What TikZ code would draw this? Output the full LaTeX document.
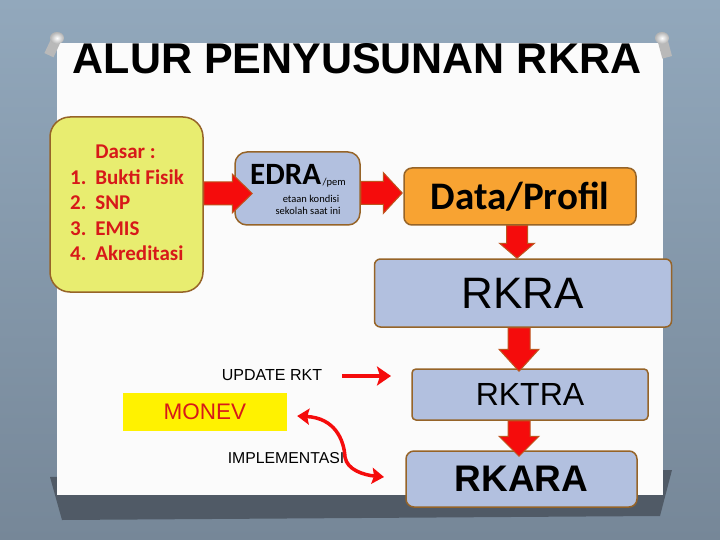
\documentclass[tikz,border=0pt]{standalone}
\usepackage{fontspec}
\setmainfont{Liberation Sans}
\newfontfamily\calfont{Carlito}
\usetikzlibrary{calc,arrows.meta}
\definecolor{bgtop}{RGB}{146,168,188}
\definecolor{bgbot}{RGB}{118,135,152}
\definecolor{shadowc}{RGB}{80,90,102}
\definecolor{paperc}{RGB}{251,251,251}
\definecolor{yellowbox}{RGB}{232,237,112}
\definecolor{boxborder}{RGB}{150,100,40}
\definecolor{bluebox}{RGB}{178,192,223}
\definecolor{orangebox}{RGB}{248,163,50}
\definecolor{arrred}{RGB}{245,12,12}
\definecolor{arroutline}{RGB}{190,85,30}
\definecolor{textred}{RGB}{215,25,25}
\tikzset{
  roundbox/.style={draw=boxborder, line width=1.5pt, inner sep=0pt},
  blockarr/.style={fill=arrred, draw=arroutline, line width=1pt, line join=miter},
  redarr/.style={draw=arrred, line width=4pt, -{Stealth[length=14pt,width=19pt,inset=3pt]}},
  curvearr/.style={draw=arrred, line width=3.5pt, {Stealth[length=12pt,width=16pt,inset=2pt]}-{Stealth[length=12pt,width=16pt,inset=2pt]}},
  arialtxt/.style={text=black, inner sep=0pt}
}
\newcommand\harr[5]{%
  \draw[blockarr] let \p1=(#1), \p2=(#2) in
   (\x1,\y2+#3) -- (\x2-#5,\y2+#3) -- (\x2-#5,\y2+#4) -- (\x2,\y2)
   -- (\x2-#5,\y2-#4) -- (\x2-#5,\y2-#3) -- (\x1,\y2-#3) -- cycle;}
\newcommand\varr[5]{%
  \draw[blockarr] let \p1=(#1), \p2=(#2) in
   (\x2-#3,\y1) -- (\x2-#3,\y2+#5) -- (\x2-#4,\y2+#5) -- (\x2,\y2)
   -- (\x2+#4,\y2+#5) -- (\x2+#3,\y2+#5) -- (\x2+#3,\y1) -- cycle;}
\begin{document}
\begin{tikzpicture}[x=1pt,y=-1pt]
\useasboundingbox (0,0) rectangle (720,540);
% background
\shade[top color=bgtop, bottom color=bgbot] (0,0) rectangle (720,540);
% paper shadow
\fill[shadowc] (50,477) -- (672,470) -- (660,516) -- (62,520) -- cycle;
% paper
\fill[paperc] (57,43) rectangle (663,495);
% pins
\begin{scope}
  \fill[gray!55, rotate around={-25:(57,38)}] (52,38) rectangle (62,57);
  \shade[inner color=white, outer color=gray!60] (57,38) ellipse (7 and 6);
  \fill[gray!55, rotate around={15:(662,38)}] (657,38) rectangle (667,58);
  \shade[inner color=white, outer color=gray!60] (662,38) ellipse (7 and 6);
\end{scope}
% title
\node[anchor=base, inner sep=0pt, font=\bfseries\fontsize{43}{43}\selectfont] (title) at (357,73.5) {ALUR PENYUSUNAN RKRA};

% boxes
\node[roundbox, fill=yellowbox, rounded corners=20pt, minimum width=153pt, minimum height=175pt] (dasar) at (126.5,204.5) {};
\node[inner sep=0pt, text=textred, font=\calfont\bfseries\fontsize{21}{25.5}\selectfont] (dasartxt) at (127,204.5)
 {\begin{tabular}{@{}r@{\hspace{9pt}}l@{}} & Dasar :\\ 1. & Bukti Fisik\\ 2. & SNP\\ 3. & EMIS\\ 4. & Akreditasi\end{tabular}};

\node[roundbox, fill=bluebox, rounded corners=12pt, minimum width=125pt, minimum height=73pt] (edra) at (297.5,188.5) {};
\node[anchor=base west, inner sep=0pt, font=\calfont\bfseries\fontsize{31}{31}\selectfont] (edratxt) at (250,184.5) {EDRA};
\node[anchor=base west, inner sep=0pt, font=\calfont\fontsize{10.5}{10.5}\selectfont] (pem) at ($(edratxt.base east)+(1,1)$) {/pem};
\node[inner sep=0pt, font=\calfont\fontsize{10.5}{10.5}\selectfont] (edra2) at (311,199) {etaan kondisi};
\node[inner sep=0pt, font=\calfont\fontsize{10.5}{10.5}\selectfont] (edra3) at (308,211) {sekolah saat ini};

\node[roundbox, fill=orangebox, rounded corners=8pt, minimum width=232pt, minimum height=57pt,
  font=\calfont\bfseries\fontsize{39}{39}\selectfont] (data) at (520,196.5) {Data/Profil};

\node[roundbox, fill=bluebox, rounded corners=6pt, minimum width=297pt, minimum height=68pt,
  font=\fontsize{44}{44}\selectfont] (rkra) at (523,293) {RKRA};

\node[roundbox, fill=bluebox, rounded corners=4pt, minimum width=236pt, minimum height=51pt,
  font=\fontsize{32}{32}\selectfont] (rktra) at (530,394.5) {RKTRA};

\node[roundbox, fill=bluebox, rounded corners=8pt, minimum width=231pt, minimum height=56pt,
  font=\bfseries\fontsize{37}{37}\selectfont] (rkara) at (521.5,479) {RKARA};

\node[fill=yellow, minimum width=164pt, minimum height=38pt, inner sep=0pt, text=textred,
  font=\fontsize{22.5}{22.5}\selectfont] (monev) at (205,412) {MONEV};

\node[arialtxt, font=\fontsize{16}{16}\selectfont] (upd) at (272,375) {UPDATE RKT};
\node[arialtxt, font=\fontsize{15.8}{15.8}\selectfont] (impl) at (286,458) {IMPLEMENTASI};

% block arrows
\coordinate (h1s) at ($(dasar.east)+(0,-11)$);
\coordinate (h1t) at ($(edra.west)+(18,5)$);
\harr{h1s}{h1t}{11.5pt}{19.5pt}{20pt}
\coordinate (h2s) at ($(edra.east)+(0,4.5)$);
\coordinate (h2t) at ($(data.west)+(-1,-3.5)$);
\harr{h2s}{h2t}{11.5pt}{20.5pt}{19pt}
\coordinate (v1s) at ($(data.south)+(-3,0)$);
\coordinate (v1t) at ($(rkra.north)+(-6,0)$);
\varr{v1s}{v1t}{10.5pt}{17.5pt}{15pt}
\coordinate (v2s) at ($(rkra.south)+(-4,0)$);
\coordinate (v2t) at ($(rktra.north)+(-11,3)$);
\varr{v2s}{v2t}{11pt}{20pt}{22pt}
\coordinate (v3s) at ($(rktra.south)+(-11,0)$);
\coordinate (v3t) at ($(rkara.north)+(-2.5,6)$);
\varr{v3s}{v3t}{11pt}{20pt}{20pt}

% red line arrows
\coordinate (updend) at (391,376);
\draw[redarr] ($(upd.east)+(20,1)$) -- (updend);
\coordinate (cstart) at ($(monev.east)+(10,4)$);
\coordinate (cend) at (384,477);
\draw[curvearr] (cstart) .. controls (335,418) and (344,440) .. (345,457)
  .. controls (347,470) and (364,475) .. (cend);
\end{tikzpicture}
\end{document}
